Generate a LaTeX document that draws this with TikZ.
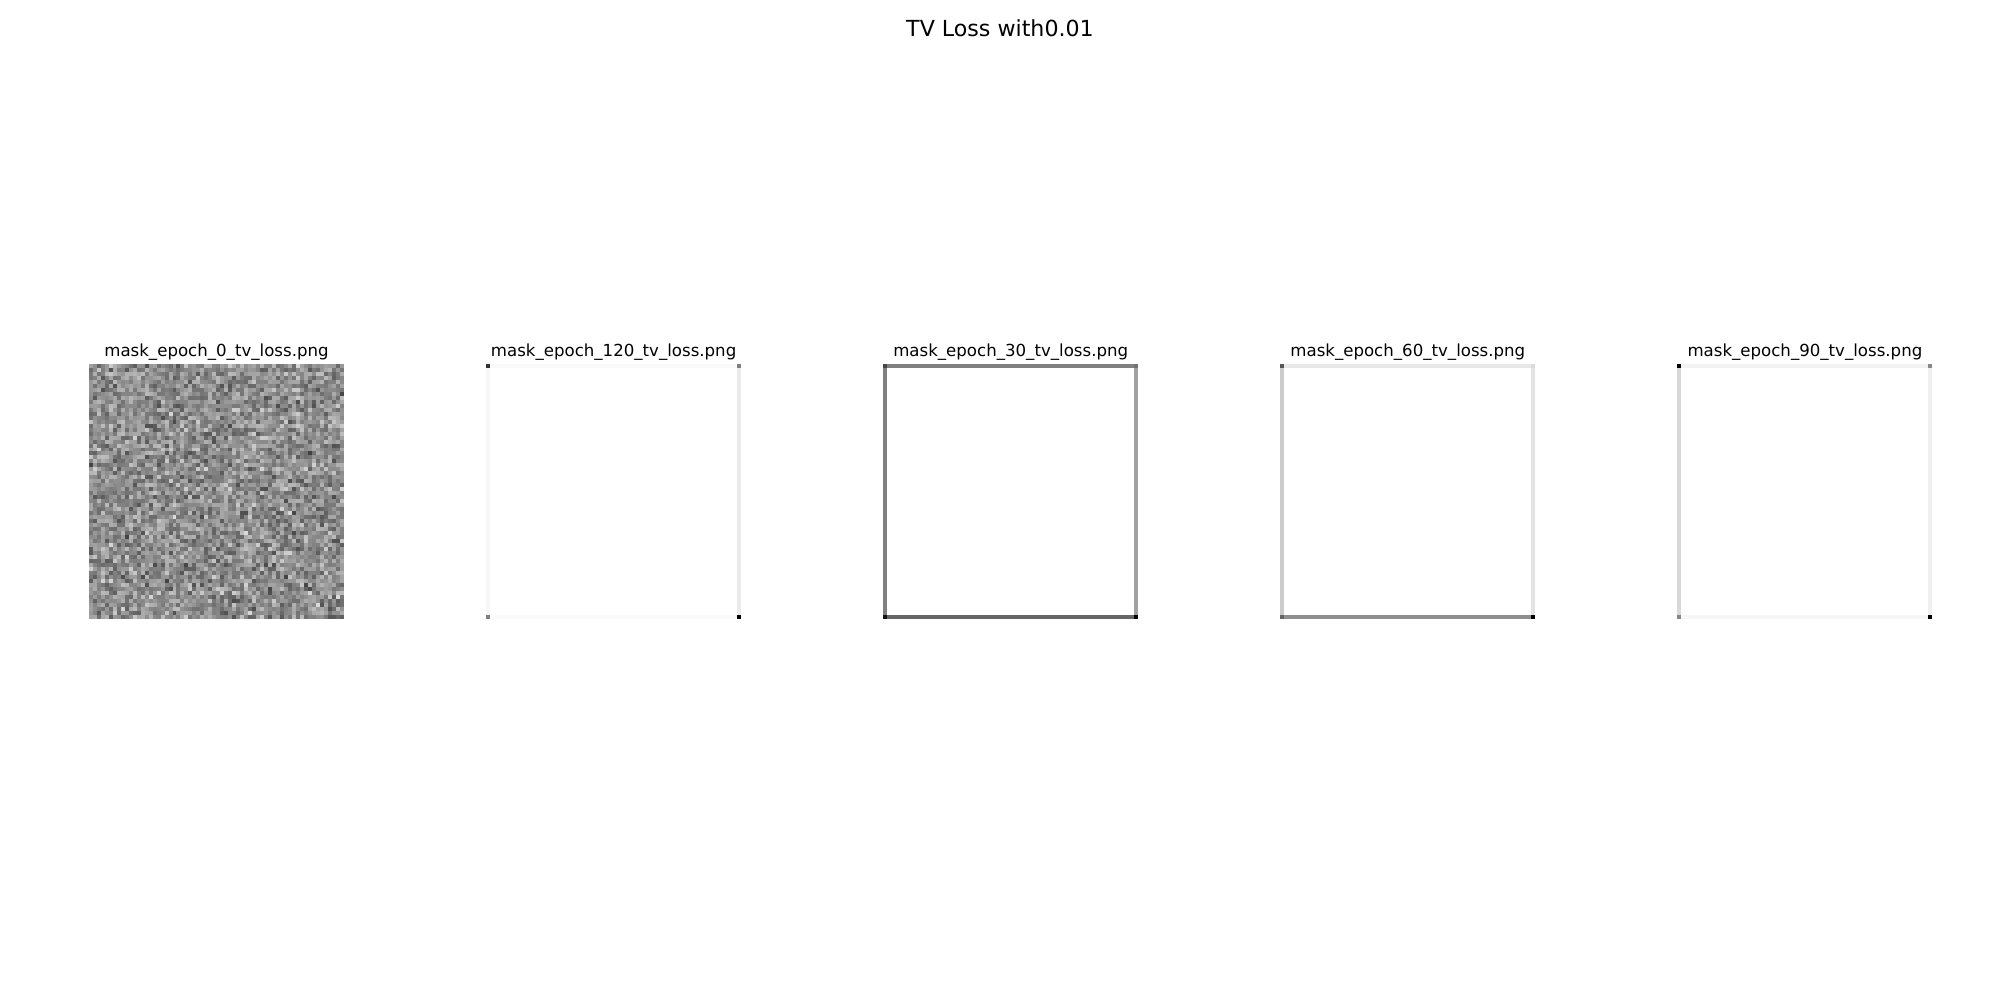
\documentclass[tikz,border=0pt]{standalone}
\usepackage{fontspec}
\setmainfont{DejaVu Sans}
\usetikzlibrary{positioning}

% one mask frame: top, bottom, left, right, tl, tr, bl, br (percent black)
\newcommand{\maskframe}[8]{%
  \fill[black!#1] (1,0) rectangle (63,1);
  \fill[black!#2] (1,63) rectangle (63,64);
  \fill[black!#3] (0,1) rectangle (1,63);
  \fill[black!#4] (63,1) rectangle (64,63);
  \fill[black!#5] (0,0) rectangle (1,1);
  \fill[black!#6] (63,0) rectangle (64,1);
  \fill[black!#7] (0,63) rectangle (1,64);
  \fill[black!#8] (63,63) rectangle (64,64);
}

\begin{document}
\begin{tikzpicture}[x=0.254mm,y=-0.254mm,
    mask/.style={x=1.0119mm,y=-1.0119mm},
    figtitle/.style={font=\fontsize{16}{19}\selectfont,anchor=base},
    masktitle/.style={font=\fontsize{12}{14}\selectfont,anchor=base}]
    \useasboundingbox[fill=white] (0,0) rectangle (2000,1000);

    \node[figtitle] (suptitle) at (1000,36) {TV Loss with0.01};

    % epoch 0: noise
    \pgfmathsetseed{7}
    \begin{scope}[shift={(89,364)},mask]
        \foreach \r in {0,...,63}
            \foreach \c in {0,...,63} {
                \pgfmathsetmacro\g{int(12+22*(rnd+rnd+rnd))}
                \fill[black!\g] (\c-0.04,\r-0.04) rectangle (\c+1.04,\r+1.04);
            }
    \end{scope}
    \node[masktitle] (t0) at (216.5,356) {mask\_epoch\_0\_tv\_loss.png};

    % epoch 120
    \begin{scope}[shift={(486.1,364)},mask]
        \maskframe{2}{2}{3}{8}{80}{50}{50}{100}
    \end{scope}
    \node[masktitle] (t120) at (613.6,356) {mask\_epoch\_120\_tv\_loss.png};

    % epoch 30
    \begin{scope}[shift={(883.2,364)},mask]
        \maskframe{50}{60}{50}{37}{72}{55}{92}{100}
    \end{scope}
    \node[masktitle] (t30) at (1010.7,356) {mask\_epoch\_30\_tv\_loss.png};

    % epoch 60
    \begin{scope}[shift={(1280.3,364)},mask]
        \maskframe{9}{44}{20}{11}{66}{14}{60}{100}
    \end{scope}
    \node[masktitle] (t60) at (1407.8,356) {mask\_epoch\_60\_tv\_loss.png};

    % epoch 90
    \begin{scope}[shift={(1677.4,364)},mask]
        \maskframe{5}{3}{15}{6}{100}{47}{47}{100}
    \end{scope}
    \node[masktitle] (t90) at (1804.9,356) {mask\_epoch\_90\_tv\_loss.png};
\end{tikzpicture}
\end{document}
